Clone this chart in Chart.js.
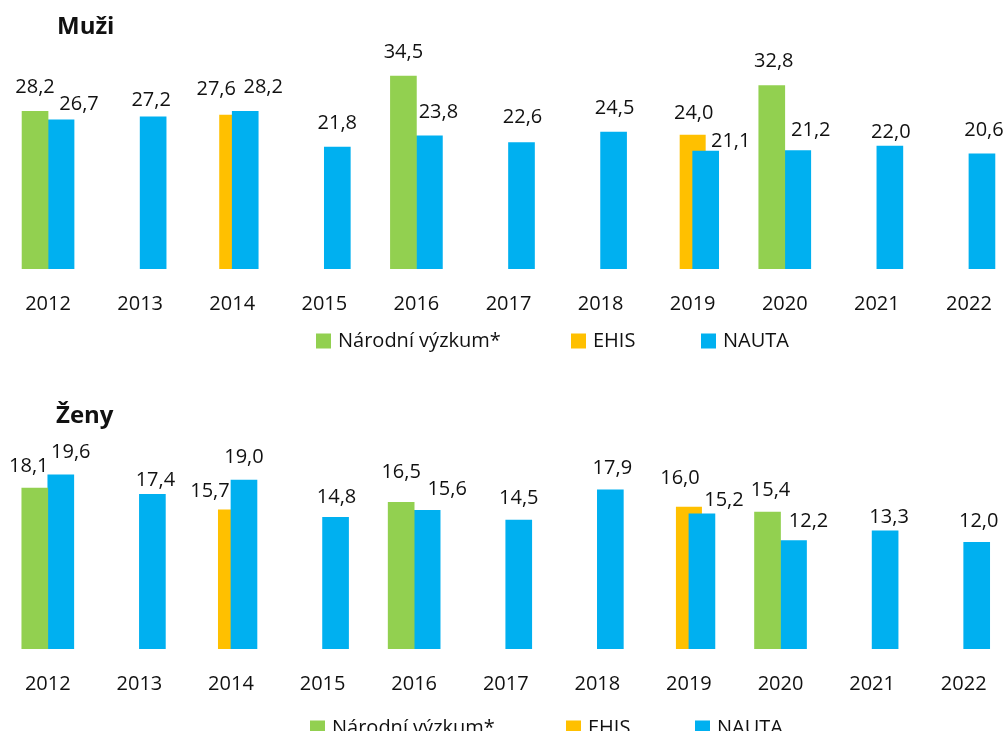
<!DOCTYPE html>
<html>
<head>
<meta charset="utf-8">
<script src="https://cdn.jsdelivr.net/npm/chart.js@4.4.0/dist/chart.umd.min.js"></script>
<style>
    body { margin: 0; background: #fff; overflow: hidden; width: 1005px; height: 731px; }
    canvas { display: block; }
</style>
</head>
<body>
<canvas id="chartMuzi" width="1020" height="365"></canvas>
<canvas id="chartZeny" width="1020" height="366"></canvas>
<script>
var roky = ["2012", "2013", "2014", "2015", "2016", "2017", "2018", "2019", "2020", "2021", "2022"];
var serie = ["Národní výzkum*", "EHIS", "NAUTA"];
var barvy = ["#92D050", "#FFC000", "#00B0F0"];

var muziNarodni = [28.2, null, null, null, 34.5, null, null, null, 32.8, null, null];
var muziEhis = [null, null, 27.6, null, null, null, null, 24.0, null, null, null];
var muziNauta = [26.7, 27.2, 28.2, 21.8, 23.8, 22.6, 24.5, 21.1, 21.2, 22.0, 20.6];

var zenyNarodni = [18.1, null, null, null, 16.5, null, null, null, 15.4, null, null];
var zenyEhis = [null, null, 15.7, null, null, null, null, 16.0, null, null, null];
var zenyNauta = [19.6, 17.4, 19.0, 14.8, 15.6, 14.5, 17.9, 15.2, 12.2, 13.3, 12.0];

// posun popisku hodnot (dx, dy od vrcholu sloupce)
var posunyMuzi = {
    def: [0, -24],
    0: { "2020": [2, -24] },
    1: { "2014": [-16, -25], "2019": [1, -22] },
    2: { "2012": [18, -15], "2013": [-2, -17], "2014": [18, -24], "2016": [9, -24], "2017": [1, -25],
         "2018": [1, -24], "2019": [25, -10], "2020": [13, -20], "2021": [1, -14], "2022": [2, -24] }
};
var posunyZeny = {
    def: [0, -22],
    0: { "2012": [-6, -22], "2016": [0, -30], "2020": [3, -22] },
    1: { "2014": [-21, -18], "2019": [-9, -28] },
    2: { "2012": [10, -22], "2013": [3, -14], "2014": [0, -23], "2015": [1, -20], "2016": [20, -21],
         "2018": [2, -22], "2019": [22, -14], "2020": [15, -19], "2021": [4, -13], "2022": [2, -21] }
};

Chart.defaults.font.family = "'Open Sans', sans-serif";
Chart.defaults.color = "#111";

var popisky = {
    id: 'popisky',
    afterDatasetsDraw: function (chart, args, opts) {
        var ctx = chart.ctx;
        ctx.save();
        ctx.font = "20px 'Open Sans'";
        ctx.fillStyle = "#111";
        ctx.textAlign = "center";
        ctx.textBaseline = "middle";
        chart.data.datasets.forEach(function (ds, i) {
            var meta = chart.getDatasetMeta(i);
            meta.data.forEach(function (bar, j) {
                var v = ds.data[j];
                if (v === null || v === undefined) return;
                var p = (opts.posuny[i] && opts.posuny[i][roky[j]]) || opts.posuny.def;
                ctx.fillText(v.toFixed(1).replace('.', ','), bar.x + p[0], bar.y + p[1]);
            });
        });
        ctx.restore();
    }
};

var nadpisALegenda = {
    id: 'nadpisALegenda',
    afterDraw: function (chart, args, opts) {
        var ctx = chart.ctx;
        ctx.save();
        ctx.fillStyle = "#111";
        ctx.font = "bold 24px 'Open Sans'";
        ctx.textAlign = "left";
        ctx.textBaseline = "alphabetic";
        ctx.fillText(opts.text, opts.textX, opts.textY);

        ctx.font = "20px 'Open Sans'";
        ctx.textBaseline = "middle";
        chart.data.datasets.forEach(function (ds, i) {
            var x = opts.legendX[i];
            ctx.fillStyle = ds.backgroundColor;
            ctx.fillRect(x, opts.legendY - 7.5, 15, 15);
            ctx.fillStyle = "#111";
            ctx.fillText(ds.label, x + 22, opts.legendY);
        });
        ctx.restore();
    }
};

function vytvorGraf(id, narodni, ehis, nauta, yMax, padding, titulek, posuny) {
    var ctx = document.getElementById(id).getContext("2d");
    return new Chart(ctx, {
        type: 'bar',
        data: {
            labels: roky,
            datasets: [
                { label: serie[0], data: narodni, backgroundColor: barvy[0], barThickness: 26, order: 0 },
                { label: serie[1], data: ehis, backgroundColor: barvy[1], grouped: false, maxBarThickness: 26, order: 1 },
                { label: serie[2], data: nauta, backgroundColor: barvy[2], barThickness: 26, order: 0 }
            ]
        },
        options: {
            responsive: false,
            animation: false,
            layout: { padding: padding },
            scales: {
                x: {
                    offset: true,
                    grid: { display: false, drawTicks: false },
                    border: { display: false },
                    ticks: { padding: 23, font: { size: 20 }, color: "#111" }
                },
                y: {
                    display: false,
                    min: 0,
                    max: yMax
                }
            },
            plugins: {
                legend: { display: false },
                title: { display: false },
                tooltip: { enabled: false },
                popisky: { posuny: posuny },
                nadpisALegenda: titulek
            }
        },
        plugins: [popisky, nadpisALegenda]
    });
}

vytvorGraf("chartMuzi", muziNarodni, muziEhis, muziNauta, 48.12,
    { left: 2, right: 5, top: 0, bottom: 26 },
    { text: "Muži", textX: 57, textY: 34, legendX: [316, 571, 701], legendY: 341 },
    posunyMuzi);

vytvorGraf("chartZeny", zenyNarodni, zenyEhis, zenyNauta, 31.95,
    { left: 2, right: 10.5, top: 0, bottom: 12 },
    { text: "Ženy", textX: 56, textY: 58, legendX: [310, 566, 695], legendY: 363 },
    posunyZeny);
</script>
</body>
</html>
